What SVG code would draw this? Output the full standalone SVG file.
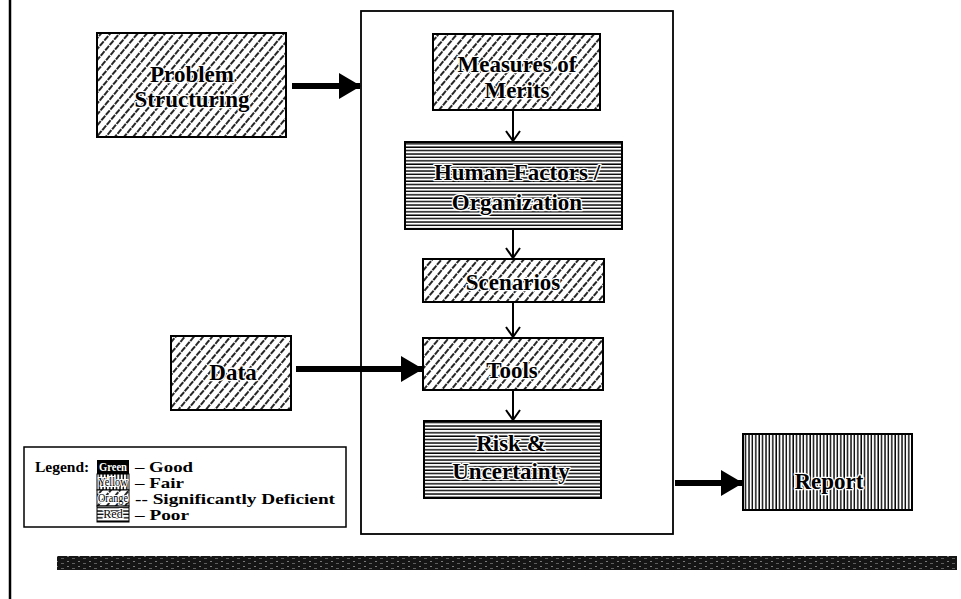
<svg xmlns="http://www.w3.org/2000/svg" width="961" height="599" viewBox="0 0 961 599">
  <style>
    .box { stroke: #000; stroke-width: 2; }
    .lbl { font-family: "Liberation Serif", "Times New Roman", serif; font-weight: bold; font-size: 23px; text-anchor: middle; fill: #000; paint-order: stroke; stroke: #fff; stroke-width: 2.5px; stroke-linejoin: round; }
    .leg { font-family: "Liberation Serif", "Times New Roman", serif; font-weight: bold; font-size: 14px; fill: #000; }
    .sw { font-family: "Liberation Serif", "Times New Roman", serif; font-size: 12px; text-anchor: middle; }
    .thin { stroke: #000; stroke-width: 2; fill: none; }
    .thick { stroke: #000; stroke-width: 6; fill: none; }
  </style>
  <defs>
    <!-- orange: diagonal dashed hatching -->
    <pattern id="pOrange" width="7" height="7" patternUnits="userSpaceOnUse" patternTransform="rotate(40)">
      <rect width="7" height="7" fill="#fff"/>
      <line x1="1" y1="0" x2="1" y2="7" stroke="#000" stroke-width="1.7" stroke-dasharray="6 1"/>
    </pattern>
    <!-- red: horizontal rules -->
    <pattern id="pRed" width="8" height="3.4" patternUnits="userSpaceOnUse">
      <rect width="8" height="3.4" fill="#fff"/>
      <line x1="0" y1="1" x2="8" y2="1" stroke="#000" stroke-width="1.4"/>
    </pattern>
    <!-- yellow: vertical rules -->
    <pattern id="pYellow" width="3.4" height="8" patternUnits="userSpaceOnUse">
      <rect width="3.4" height="8" fill="#fff"/>
      <line x1="1" y1="0" x2="1" y2="8" stroke="#000" stroke-width="1.4"/>
    </pattern>
    <!-- speckled dark band -->
    <pattern id="pBand" width="11" height="5" patternUnits="userSpaceOnUse">
      <rect width="11" height="5" fill="#151515"/>
      <rect x="1" y="1" width="2" height="1" fill="#7a7a7a"/>
      <rect x="6" y="3" width="3" height="1" fill="#5e5e5e"/>
    </pattern>
    <!-- open V arrowhead for the stacked steps -->
    <marker id="vHead" markerWidth="13" markerHeight="16" refX="11" refY="8" orient="auto" markerUnits="userSpaceOnUse" viewBox="0 0 13 16">
      <path d="M1,1 L11,8 L1,15" fill="none" stroke="#000" stroke-width="2"/>
    </marker>
    <!-- solid head for the heavy inputs/outputs -->
    <marker id="bigHead" markerWidth="22" markerHeight="26" refX="21" refY="13" orient="auto" markerUnits="userSpaceOnUse" viewBox="0 0 22 26">
      <path d="M0,0 L22,13 L0,26 Z" fill="#000"/>
    </marker>
  </defs>

  <rect width="961" height="599" fill="#fff"/>

  <!-- page margin rule -->
  <line x1="10" y1="0" x2="10" y2="599" stroke="#000" stroke-width="2.5"/>

  <!-- process container -->
  <g id="container">
    <rect x="361" y="11" width="312" height="523" fill="none" stroke="#000" stroke-width="1.8"/>
  </g>

  <g id="problem-structuring">
    <rect class="box" x="97" y="33" width="189" height="104" fill="url(#pOrange)"/>
    <text class="lbl" x="192" y="82">Problem</text>
    <text class="lbl" x="192" y="107">Structuring</text>
  </g>

  <g id="measures-of-merits">
    <rect class="box" x="433" y="34" width="167" height="76" fill="url(#pOrange)"/>
    <text class="lbl" x="517" y="72">Measures of</text>
    <text class="lbl" x="517" y="98">Merits</text>
  </g>

  <g id="human-factors">
    <rect class="box" x="405" y="142" width="217" height="87" fill="url(#pRed)"/>
    <text class="lbl" x="517" y="180">Human Factors /</text>
    <text class="lbl" x="517" y="210">Organization</text>
  </g>

  <g id="scenarios">
    <rect class="box" x="423" y="259" width="181" height="43" fill="url(#pOrange)"/>
    <text class="lbl" x="513" y="290">Scenarios</text>
  </g>

  <g id="data">
    <rect class="box" x="171" y="336" width="120" height="74" fill="url(#pOrange)"/>
    <text class="lbl" x="233" y="380">Data</text>
  </g>

  <g id="tools">
    <rect class="box" x="423" y="338" width="180" height="52" fill="url(#pOrange)"/>
    <text class="lbl" x="512" y="378">Tools</text>
  </g>

  <g id="risk-uncertainty">
    <rect class="box" x="424" y="421" width="177" height="77" fill="url(#pRed)"/>
    <text class="lbl" x="511" y="451">Risk &amp;</text>
    <text class="lbl" x="511" y="479">Uncertainty</text>
  </g>

  <g id="report">
    <rect class="box" x="743" y="434" width="169" height="76" fill="url(#pYellow)"/>
    <text class="lbl" x="829" y="489">Report</text>
  </g>

  <g id="connectors">
    <line class="thick" x1="292" y1="86" x2="360" y2="86" marker-end="url(#bigHead)"/>
    <line class="thick" x1="296" y1="369" x2="422" y2="369" marker-end="url(#bigHead)"/>
    <line class="thick" x1="675" y1="483" x2="742" y2="483" marker-end="url(#bigHead)"/>
    <line class="thin" x1="513" y1="110" x2="513" y2="141" marker-end="url(#vHead)"/>
    <line class="thin" x1="513" y1="229" x2="513" y2="258" marker-end="url(#vHead)"/>
    <line class="thin" x1="513" y1="302" x2="513" y2="337" marker-end="url(#vHead)"/>
    <line class="thin" x1="513" y1="390" x2="513" y2="420" marker-end="url(#vHead)"/>
  </g>

  <g id="legend">
    <rect x="24" y="447" width="322" height="80" fill="#fff" stroke="#000" stroke-width="1.5"/>
    <text class="leg" x="35" y="472" style="font-size:15.5px">Legend:</text>
    <rect x="97" y="460" width="32" height="14" fill="#000"/>
    <text class="sw" x="113" y="471" fill="#fff" font-weight="bold" textLength="28" lengthAdjust="spacingAndGlyphs">Green</text>
    <rect x="97" y="474" width="32" height="16" fill="url(#pYellow)" stroke="#000" stroke-width="1"/>
    <text class="sw" x="113" y="486" fill="#000" textLength="29" lengthAdjust="spacingAndGlyphs" style="paint-order:stroke;stroke:#fff;stroke-width:2px">Yellow</text>
    <rect x="97" y="490" width="32" height="16" fill="url(#pOrange)" stroke="#000" stroke-width="1"/>
    <text class="sw" x="113" y="502" fill="#000" textLength="30" lengthAdjust="spacingAndGlyphs" style="paint-order:stroke;stroke:#fff;stroke-width:2px">Orange</text>
    <rect x="97" y="506" width="32" height="16" fill="url(#pRed)" stroke="#000" stroke-width="1"/>
    <text class="sw" x="113" y="518" fill="#000" style="paint-order:stroke;stroke:#fff;stroke-width:2px">Red</text>
    <text class="leg" x="135" y="472" textLength="58" lengthAdjust="spacingAndGlyphs">– Good</text>
    <text class="leg" x="135" y="488" textLength="49" lengthAdjust="spacingAndGlyphs">– Fair</text>
    <text class="leg" x="135" y="504" textLength="200" lengthAdjust="spacingAndGlyphs">-- Significantly Deficient</text>
    <text class="leg" x="135" y="520" textLength="54" lengthAdjust="spacingAndGlyphs">– Poor</text>
  </g>

  <!-- footer band -->
  <rect x="57" y="556" width="900" height="14" fill="url(#pBand)"/>
</svg>
